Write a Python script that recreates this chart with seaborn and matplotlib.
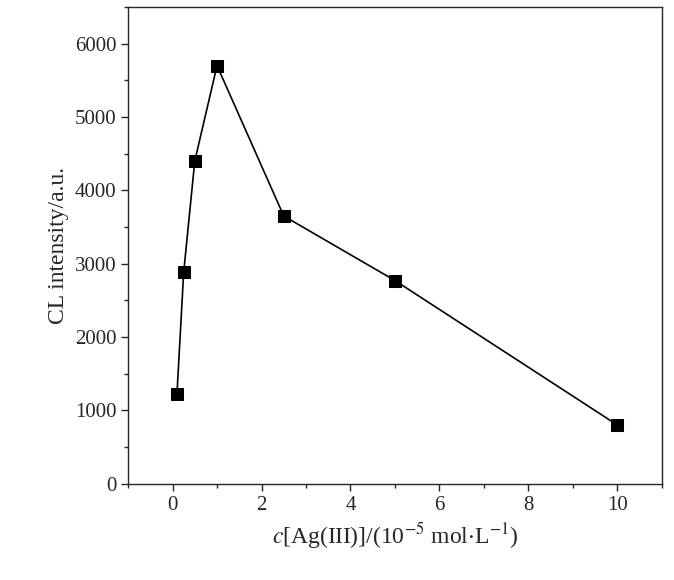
import matplotlib.pyplot as plt
import seaborn as sns
import pandas as pd
from matplotlib.ticker import MultipleLocator

conc = [0.1, 0.25, 0.5, 1.0, 2.5, 5.0, 10.0]
intensity = [1230, 2880, 4400, 5700, 3650, 2770, 800]

sns.set_style('ticks')
plt.rcParams['font.family'] = ['Liberation Serif', 'DejaVu Serif']
plt.rcParams['mathtext.fontset'] = 'stix'

df = pd.DataFrame({'c': conc, 'I': intensity})

fig = plt.figure(figsize=(6.74, 5.80), dpi=100)
ax = fig.add_axes([0.19, 0.166, 0.792, 0.822])
sns.lineplot(data=df, x='c', y='I', ax=ax, color='black', lw=1.2,
             marker='s', markersize=8, markeredgecolor='black')

ax.set_xlim(-1, 11)
ax.set_ylim(0, 6500)
ax.xaxis.set_major_locator(MultipleLocator(2))
ax.xaxis.set_minor_locator(MultipleLocator(1))
ax.yaxis.set_major_locator(MultipleLocator(1000))
ax.yaxis.set_minor_locator(MultipleLocator(500))
ax.tick_params(which='major', length=5, width=1, labelsize=15, direction='out')
ax.tick_params(which='minor', length=3, width=1, direction='out')
for s in ax.spines.values():
    s.set_linewidth(1)
    s.set_visible(True)

ax.set_xlabel(r'$c$[Ag(III)]/(10$^{-5}$ mol$\cdot$L$^{-1}$)', fontsize=17)
ax.set_ylabel('CL intensity/a.u.', fontsize=17)

fig.savefig('out.png', dpi=100)
